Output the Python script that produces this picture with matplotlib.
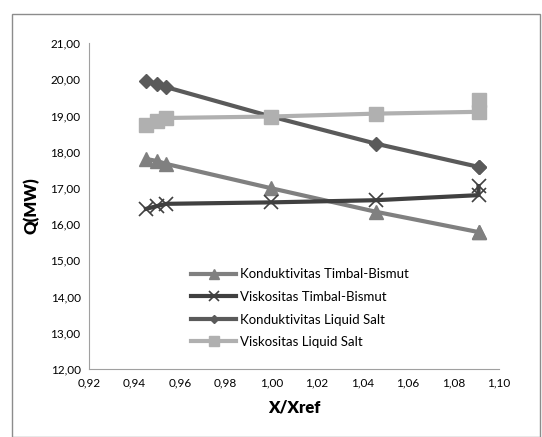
import matplotlib.pyplot as plt
from matplotlib.patches import Rectangle
from matplotlib.ticker import FuncFormatter

plt.rcParams['font.family'] = ['Lato', 'DejaVu Sans']

# X/Xref points for each case (last x appears twice)
x_vals = [0.945, 0.950, 0.954, 1.000, 1.046, 1.091, 1.091]

kond_tb = [17.80, 17.74, 17.66, 16.99, 16.34, 15.78, 15.78]
visk_tb = [16.42, 16.50, 16.56, 16.60, 16.66, 16.80, 17.05]
kond_ls = [19.94, 19.88, 19.78, 18.97, 18.22, 17.58, 17.58]
visk_ls = [18.75, 18.84, 18.93, 18.97, 19.05, 19.10, 19.42]

labels = ["Konduktivitas Timbal-Bismut", "Viskositas Timbal-Bismut",
          "Konduktivitas Liquid Salt", "Viskositas Liquid Salt"]

fig = plt.figure(figsize=(5.42, 4.37), dpi=100)
W, H = 542, 437
ax = fig.add_axes([89 / W, 1 - 369 / H, (499 - 89) / W, (369 - 43) / H])

# outer chart frame
fig.patches.append(Rectangle((12 / W, 0), (540 - 12) / W, 1 - 14 / H,
                             transform=fig.transFigure, fill=False,
                             edgecolor='#8c8c8c', linewidth=1.0))

ax.plot(x_vals, kond_tb, color='#808080', lw=3, marker='^', ms=10, label=labels[0])
ax.plot(x_vals, visk_tb, color='#404040', lw=3, marker='x', ms=10, mew=1.2,
        label=labels[1])
ax.plot(x_vals, kond_ls, color='#5a5a5a', lw=3, marker='D', ms=7, label=labels[2])
ax.plot(x_vals, visk_ls, color='#b0b0b0', lw=3, marker='s', ms=10, label=labels[3])

ax.set_xlim(0.92, 1.10)
ax.set_ylim(12, 21)
ax.set_xticks([0.92 + 0.02 * i for i in range(10)])
ax.set_yticks(range(12, 22))
comma = FuncFormatter(lambda v, p: f"{v:.2f}".replace('.', ','))
ax.xaxis.set_major_formatter(comma)
ax.yaxis.set_major_formatter(comma)
ax.tick_params(length=0, labelsize=8.5, pad=6)

for s in ['top', 'right']:
    ax.spines[s].set_visible(False)
for s in ['left', 'bottom']:
    ax.spines[s].set_color('#a0a0a0')

ax.set_xlabel("X/Xref", fontsize=12, fontweight='heavy', labelpad=8)
ax.set_ylabel("Q(MW)", fontsize=12, fontweight='heavy', labelpad=8)

leg = ax.legend(loc='upper left', bbox_to_anchor=(0.22, 0.345), frameon=False,
                fontsize=9.5, handlelength=3.4, handletextpad=0.3,
                labelspacing=0.8, markerscale=0.65)

fig.savefig("out.png", dpi=100)
